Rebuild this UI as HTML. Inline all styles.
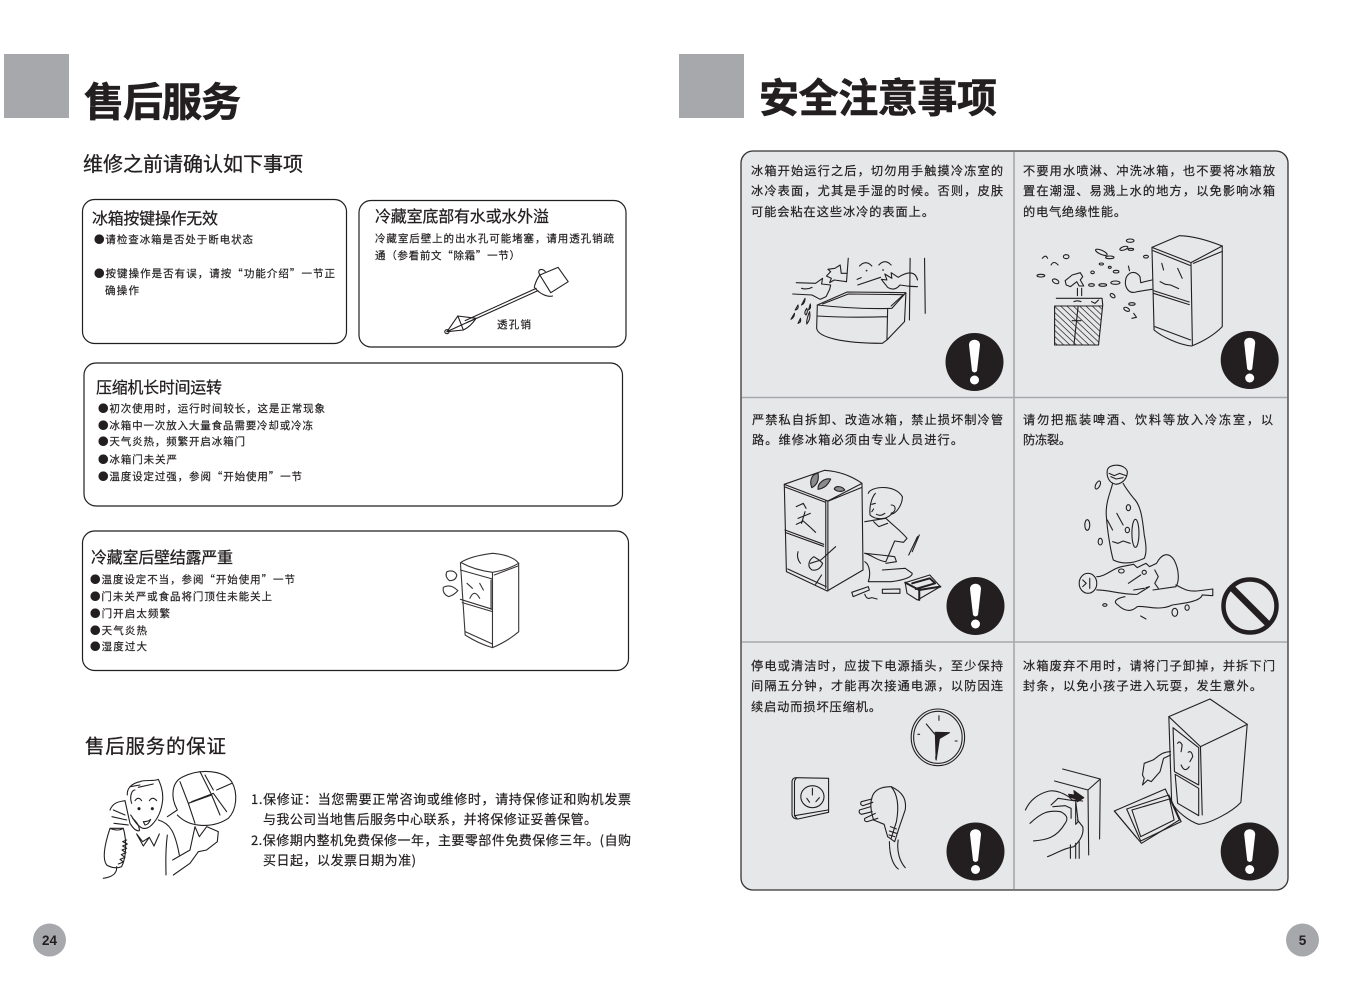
<!DOCTYPE html>
<html lang="zh-CN"><head><meta charset="utf-8"><title>售后服务 安全注意事项</title>
<style>
html,body{margin:0;padding:0;background:#fff;width:1352px;height:992px;overflow:hidden}
svg{display:block}
text{font-family:"Noto Sans CJK SC","Liberation Sans",sans-serif;fill:#231f20;stroke:#231f20;stroke-width:.18px}
.h1{font-size:40px;font-weight:700;stroke-width:.6px}
.h2{font-size:20px;stroke-width:.3px}
.t{font-size:16px;stroke-width:.25px}
.s{font-size:10.5px}
.b{font-size:12.2px;stroke-width:.2px}
.g{font-size:13px;stroke-width:.2px}
.d,.d *{fill:none;stroke:#231f20;stroke-width:1.1;vector-effect:non-scaling-stroke;stroke-linejoin:round;stroke-linecap:round}
.box{fill:#fff;stroke:#231f20;stroke-width:1.2}
</style></head><body>
<svg xmlns="http://www.w3.org/2000/svg" width="1352" height="992" viewBox="0 0 1352 992">
<defs><pattern id="hatch" patternUnits="userSpaceOnUse" width="18" height="18"><path d="M-2 -2L20 20M-20 -2L2 20M16 -2L38 20" stroke="#231f20" stroke-width="2" fill="none"/></pattern></defs>
<rect width="1352" height="992" fill="#fff"/>
<rect x="4" y="54" width="65" height="64" fill="#a7a8ab"/>
<rect x="679" y="54" width="65" height="64" fill="#a7a8ab"/>
<text class="h1" x="84" y="116" textLength="157">售后服务</text>
<text class="h1" x="759" y="112" textLength="238">安全注意事项</text>
<text class="h2" x="83" y="171" textLength="220">维修之前请确认如下事项</text>

<rect class="box" x="82.5" y="199.5" width="264" height="144" rx="12"/>
<text class="t" x="92" y="224" textLength="126">冰箱按键操作无效</text>
<text class="s" x="94" y="243" textLength="159">●请检查冰箱是否处于断电状态</text>
<text class="s" x="94" y="277" textLength="241">●按键操作是否有误，请按“功能介绍”一节正</text>
<text class="s" x="105" y="294" textLength="34">确操作</text>

<rect class="box" x="359" y="200.5" width="267" height="146.500" rx="12"/>
<text class="t" x="375" y="222" textLength="174">冷藏室底部有水或水外溢</text>
<text class="s" x="375" y="242" textLength="239">冷藏室后壁上的出水孔可能堵塞，请用透孔销疏</text>
<text class="s" x="375" y="259" textLength="145">通（参看前文“除霜”一节）</text>
<text class="s" x="497" y="328" textLength="34">透孔销</text>
<g class="d" transform="translate(70 190) scale(.3642 .3333)">
<path d="M1035 425L1065 378L1115 385Q1100 410 1080 420Z"/><path d="M1035 425L1115 385M1065 378L1080 420"/><circle cx="1035" cy="425" r="6"/>
<path d="M1085 392L1280 295M1090 398L1285 302"/>
<path d="M1290 255L1340 232L1368 275L1320 308Z"/><path d="M1290 255C1280 235 1300 235 1305 245M1275 290C1280 270 1285 262 1290 255M1275 292C1290 312 1310 322 1325 318"/>
</g>

<rect class="box" x="84" y="363" width="538.500" height="143" rx="12"/>
<text class="t" x="96" y="393" textLength="126">压缩机长时间运转</text>
<text class="s" x="98" y="412" textLength="227">●初次使用时，运行时间较长，这是正常现象</text>
<text class="s" x="98" y="429" textLength="215">●冰箱中一次放入大量食品需要冷却或冷冻</text>
<text class="s" x="98" y="445" textLength="147">●天气炎热，频繁开启冰箱门</text>
<text class="s" x="98" y="463" textLength="79">●冰箱门未关严</text>
<text class="s" x="98" y="480" textLength="204">●温度设定过强，参阅“开始使用”一节</text>

<rect class="box" x="82.500" y="531" width="546" height="139.500" rx="12"/>
<text class="t" x="91" y="563" textLength="142">冷藏室后壁结露严重</text>
<text class="s" x="90" y="583" textLength="205">●温度设定不当，参阅“开始使用”一节</text>
<text class="s" x="90" y="600" textLength="182">●门未关严或食品将门顶住未能关上</text>
<text class="s" x="90" y="617" textLength="80">●门开启太频繁</text>
<text class="s" x="90" y="634" textLength="57">●天气炎热</text>
<text class="s" x="90" y="650" textLength="57">●湿度过大</text>
<g class="d" transform="translate(70 520) scale(.3642 .3333)" style="opacity:.9">
<path d="M1072 128Q1100 108 1160 100Q1215 105 1232 130L1232 335Q1200 365 1160 383Q1120 370 1085 345Z"/>
<path d="M1074 128Q1110 150 1160 157Q1200 150 1232 130M1160 157V383"/>
<path d="M1072 150L1160 177V270M1072 238L1160 268M1077 248L1160 275M1085 335L1160 372M1165 165L1230 138M1156 180V268"/>
<path d="M1090 190L1105 205M1125 190L1135 210M1098 235Q1110 205 1125 235"/>
<path d="M1035 155Q1055 148 1062 165Q1060 182 1042 182Q1028 170 1035 155ZM1025 202Q1045 190 1065 212Q1055 225 1040 230Q1022 222 1025 202Z"/>
</g>

<text class="h2" style="font-size:19.500px" x="85" y="753" textLength="141">售后服务的保证</text>
<g class="d" transform="translate(90 760) scale(.3333)">
<path d="M232 170L262 150C240 110 245 65 280 50C330 25 400 30 425 65C445 100 440 150 415 175C370 205 300 205 262 165"/>
<path d="M270 65L295 130L365 105L330 35M295 130L315 190M305 125L370 100L410 155M365 105L390 165M345 45L370 90M380 90L425 70"/>
<path d="M112 105C110 85 125 70 150 65C165 58 190 65 205 58C210 70 220 90 218 120C215 150 205 175 185 195C175 205 160 210 150 200C135 190 130 175 122 165"/>
<path d="M125 130C118 110 125 90 135 90M145 82L190 72M120 80L150 75"/>
<path d="M135 122Q145 108 155 122M178 122Q188 108 200 122"/><circle cx="147" cy="146" r="3" style="fill:#231f20"/><circle cx="187" cy="146" r="3" style="fill:#231f20"/>
<path d="M160 185Q175 185 182 178Q175 195 165 195Z"/>
<path d="M60 150C70 125 90 125 105 122L120 190Q135 215 148 212Q150 195 128 175M70 150L105 165M66 170L110 180M72 190L115 195"/>
<path d="M60 205C45 250 35 295 50 315C65 325 85 325 95 320C110 290 110 240 100 205ZM60 205Q85 215 100 205"/>
<path d="M110 240L98 245L112 252L98 258L110 265L96 270L108 278L94 284L105 292L90 298L100 306L85 312M80 320C82 345 60 352 40 355"/>
<path d="M140 222L158 245L178 232L192 258L208 222M178 232L160 258L140 222M205 180C240 190 255 215 268 285"/>
<path d="M232 225C225 280 228 320 228 345M248 300L300 270L315 200L328 230L350 200L385 215L382 245L350 270L325 275L300 310L250 345"/>
</g>
<text class="g" x="251" y="804" textLength="380">1.保修证：当您需要正常咨询或维修时，请持保修证和购机发票</text>
<text class="g" x="263" y="824" textLength="334">与我公司当地售后服务中心联系，并将保修证妥善保管。</text>
<text class="g" x="251" y="845" textLength="380">2.保修期内整机免费保修一年，主要零部件免费保修三年。(自购</text>
<text class="g" x="263" y="865" textLength="153">买日起，以发票日期为准)</text>

<rect x="741" y="151" width="547" height="739" rx="12" fill="#e6e7e8" stroke="#333" stroke-width="1.300"/>
<path d="M1014 152V889M742 397.500H1287M742 642H1287" stroke="#a7a8ab" stroke-width="1.600" fill="none"/>

<text class="b" x="751" y="175" textLength="252">冰箱开始运行之后，切勿用手触摸冷冻室的</text>
<text class="b" x="751" y="195" textLength="252">冰冷表面，尤其是手湿的时候。否则，皮肤</text>
<text class="b" x="751" y="216" textLength="183">可能会粘在这些冰冷的表面上。</text>
<text class="b" x="1023" y="175" textLength="252">不要用水喷淋、冲洗冰箱，也不要将冰箱放</text>
<text class="b" x="1023" y="195" textLength="252">置在潮湿、易溅上水的地方，以免影响冰箱</text>
<text class="b" x="1023" y="216" textLength="103">的电气绝缘性能。</text>
<text class="b" x="752" y="424" textLength="251">严禁私自拆卸、改造冰箱，禁止损坏制冷管</text>
<text class="b" x="752" y="444" textLength="211">路。维修冰箱必须由专业人员进行。</text>
<text class="b" x="1023" y="424" textLength="250">请勿把瓶装啤酒、饮料等放入冷冻室，以</text>
<text class="b" x="1023" y="444" textLength="48">防冻裂。</text>
<text class="b" x="751" y="670" textLength="252">停电或清洁时，应拔下电源插头，至少保持</text>
<text class="b" x="751" y="690" textLength="252">间隔五分钟，才能再次接通电源，以防因连</text>
<text class="b" x="751" y="711" textLength="130">续启动而损坏压缩机。</text>
<text class="b" x="1023" y="670" textLength="252">冰箱废弃不用时，请将门子卸掉，并拆下门</text>
<text class="b" x="1023" y="690" textLength="239">封条，以免小孩子进入玩耍，发生意外。</text>

<!-- row 1 illustrations -->
<g class="d" transform="translate(740 230) scale(.3515 .3333)">
<path d="M220 225L305 186L472 188L432 235C360 238 280 232 220 225Z"/>
<path d="M235 222L308 192L465 194L430 228"/>
<path d="M220 225L218 295C222 322 290 340 405 340L418 330L420 238M418 330L468 275L472 190M220 258C280 262 360 262 420 260"/>
<path d="M484 85L482 270M525 85L527 250M308 85L303 155"/>
<path d="M340 108Q358 88 375 108M395 105Q412 85 430 105M335 165L400 142M333 148L345 143"/><circle cx="360" cy="122" r="1"/><circle cx="407" cy="120" r="1"/>
<path d="M505 150C500 125 480 122 450 142L430 128L432 145L412 132L418 150L402 148L420 172Q440 185 455 165C470 168 490 170 505 170"/>
<path d="M303 155L268 150L255 158L260 145L246 138L258 125L250 118L270 115L285 105L288 130L305 130"/>
<path d="M160 158L215 160L235 145L232 162L258 165L255 178L245 200L228 208L205 195L150 192M175 175Q190 180 205 172"/>
<path d="M185 205L175 225Q185 220 185 205ZM165 225L157 240Q168 238 165 225ZM190 235Q180 250 188 255Q194 245 190 235ZM200 222L195 240Q203 235 200 222ZM155 250L145 268Q155 262 155 250ZM172 265L165 280Q175 278 172 265ZM198 245Q188 270 190 282Q202 268 198 245Z"/>
<path d="M1172 52L1250 17Q1300 18 1372 48L1372 290Q1340 325 1285 348C1250 345 1200 320 1178 300Z"/>
<path d="M1172 52L1283 98L1372 48M1283 98L1287 345M1175 62L1280 106M1176 182L1278 216M1176 190L1278 224M1180 290L1282 330M1290 100L1372 64"/>
<path d="M1195 155L1210 163L1225 165L1248 176M1200 100L1205 120M1245 115L1258 145"/>
<path d="M1172 150L1140 158M1172 178L1130 185C1105 195 1092 170 1098 145C1105 125 1125 120 1138 140L1140 158M1105 108L1108 122"/>
<path d="M900 205H1030L1032 225L1020 345M895 228H1030M895 228V345H1020M962 228L950 345"/>
<path d="M895 228H1030L1020 345H895Z" style="fill:url(#hatch);stroke:none"/>
<path d="M945 272H970"/>
<path d="M925 152L945 135L968 128L975 140L968 150L978 168H965L958 155L940 170L928 165ZM960 175V197M972 175V197M950 215Q960 210 970 215M1000 215L1010 220L1020 210"/>
<ellipse cx="1028" cy="67" rx="18" ry="6" transform="rotate(25 1028 67)"/><ellipse cx="1052" cy="82" rx="12" ry="4"/><ellipse cx="1092" cy="55" rx="12" ry="5" transform="rotate(-20 1092 55)"/><ellipse cx="1110" cy="32" rx="11" ry="5"/><ellipse cx="1112" cy="58" rx="8" ry="3"/><ellipse cx="1155" cy="80" rx="7" ry="4"/>
<ellipse cx="1028" cy="102" rx="6" ry="3"/><ellipse cx="1070" cy="125" rx="8" ry="4"/><ellipse cx="1052" cy="112" rx="4" ry="3"/><ellipse cx="1003" cy="127" rx="5" ry="4"/><ellipse cx="1000" cy="165" rx="8" ry="4"/><ellipse cx="1032" cy="165" rx="11" ry="4"/><ellipse cx="1068" cy="158" rx="13" ry="5"/><ellipse cx="1060" cy="197" rx="8" ry="5" transform="rotate(40 1060 197)"/><ellipse cx="1115" cy="222" rx="9" ry="4"/><ellipse cx="1100" cy="238" rx="9" ry="5" transform="rotate(30 1100 238)"/><path d="M1120 250L1128 262L1115 265"/>
<ellipse cx="928" cy="80" rx="8" ry="6"/><path d="M860 85Q870 72 875 85M885 105Q892 90 905 105"/><ellipse cx="856" cy="137" rx="11" ry="4"/><ellipse cx="898" cy="154" rx="10" ry="6" transform="rotate(30 898 154)"/>
</g>
<g><circle cx="974.500" cy="362" r="29" fill="#231f20"/><path d="M969 345C969 338 980 338 980 345L977 371Q974.500 374 972 371Z" fill="#fff"/><circle cx="974.500" cy="380" r="4.500" fill="#fff"/></g>
<g><circle cx="1249.700" cy="360" r="29" fill="#231f20"/><path d="M1244.200 343C1244.200 336 1255.200 336 1255.200 343L1252.200 369Q1249.700 372 1247.200 369Z" fill="#fff"/><circle cx="1249.700" cy="378" r="4.500" fill="#fff"/></g>

<!-- row 2 illustrations -->
<g class="d" transform="translate(740 455) scale(.3515 .3333)">
<path d="M126 88L240 46Q300 50 347 85L350 345L248 408L132 350Z"/>
<path d="M126 88L250 138L347 85M250 138V408M244 138V400M128 96L244 142M128 225L238 268M130 233L238 274M136 342L245 395M252 138L345 98"/>
<path d="M204 98C195 70 210 55 222 55C225 75 220 90 204 98ZM222 103C220 85 240 68 258 72C250 90 240 100 222 103ZM268 102C272 92 290 92 298 105C290 112 275 110 268 102Z" style="fill:#8a8b8d"/>
<path d="M160 155L180 145L188 160M160 208L180 198L198 215L215 232M165 190L200 175M185 170L175 205"/>
<path d="M165 290Q160 310 172 325M200 325L230 315L272 275M205 345C190 335 195 315 210 305L225 315L235 325C230 340 218 348 205 345Z"/>
<path d="M215 388L232 360"/>
<path d="M365 115C370 95 440 85 462 125C462 150 445 175 430 178C415 195 385 195 370 180C368 160 372 130 385 115M430 150C445 150 445 170 430 175M375 148L385 145M380 162L375 170M388 178Q400 185 412 175"/>
<path d="M355 200Q385 195 415 190C440 215 460 230 475 250L465 262L440 258L415 320C395 320 375 300 355 295M380 200L395 215L420 205"/>
<path d="M355 320C370 330 372 360 365 380L430 380C470 375 490 365 490 355L470 340L405 345"/>
<path d="M355 295L400 300L440 305L445 320L415 325M480 300L505 245M490 290L510 240"/>
<path d="M470 383L540 360L570 395L505 435L475 415Z"/><path d="M470 383L510 405V435M510 405L570 395M490 385L540 370L555 385L500 402" style="stroke-width:2"/>
<path d="M318 412L365 395L368 405L322 425ZM405 403L455 402V415L405 415ZM355 418Q360 432 368 430L375 428L390 432"/>
<path d="M1045 45C1050 25 1095 25 1102 50C1102 70 1090 85 1070 88C1050 85 1042 65 1045 45Z"/><path d="M1050 55L1065 62L1080 55L1098 62M1055 65L1070 72L1090 68"/>
<path d="M1060 85C1055 110 1040 140 1042 180C1045 230 1055 290 1062 315Q1100 335 1150 310Q1160 290 1150 240C1145 190 1140 150 1120 130C1105 110 1095 95 1090 85"/>
<ellipse cx="1125" cy="235" rx="10" ry="42"/><path d="M1060 260L1075 265L1090 258L1110 265M1072 175L1090 210M1045 195L1060 225"/>
<ellipse cx="1105" cy="158" rx="6" ry="9"/><ellipse cx="1102" cy="225" rx="6" ry="8"/><ellipse cx="1018" cy="90" rx="6" ry="13" transform="rotate(25 1018 90)"/><ellipse cx="988" cy="210" rx="7" ry="16"/><ellipse cx="1025" cy="260" rx="6" ry="10"/>
<ellipse cx="990" cy="385" rx="25" ry="30"/><path d="M975 375L985 385L975 395M995 370V400"/>
<path d="M1015 365C1040 365 1060 340 1085 335L1120 328L1130 338L1155 325L1165 335L1185 325C1200 295 1220 290 1235 315C1250 345 1250 380 1240 395L1175 405M1015 405C1050 405 1090 420 1130 418L1165 395L1155 398M1180 345L1190 365L1180 385L1190 400M1105 385L1140 360M1120 405L1150 400"/>
<ellipse cx="1085" cy="348" rx="8" ry="6"/><ellipse cx="1150" cy="352" rx="6" ry="6"/>
<path d="M1240 390C1260 400 1270 410 1300 408L1345 402V422L1315 420C1310 440 1260 445 1230 450C1190 470 1150 450 1130 455C1110 475 1090 465 1075 450C1060 440 1070 430 1095 425"/>
<ellipse cx="1038" cy="450" rx="6" ry="4"/><ellipse cx="1237" cy="472" rx="8" ry="12"/><ellipse cx="1272" cy="458" rx="6" ry="8"/><path d="M1140 483L1155 492"/>
</g>
<g><circle cx="975.500" cy="606" r="29" fill="#231f20"/><path d="M970 589C970 582 981 582 981 589L978 615Q975.500 618 973 615Z" fill="#fff"/><circle cx="975.500" cy="624" r="4.500" fill="#fff"/></g>
<g fill="none" stroke="#231f20"><circle cx="1250" cy="606" r="26.500" stroke-width="4.500"/><path d="M1232 588L1268 624" stroke-width="6.500"/></g>

<!-- row 3 illustrations -->
<g class="d" transform="translate(740 695) scale(.3515 .3333)">
<ellipse cx="563" cy="127" rx="76" ry="85"/><ellipse cx="563" cy="127" rx="69" ry="78"/>
<path d="M566 62V76M506 118H511M612 138H618M557 185V192M560 125L530 87"/><path d="M555 112L596 113L565 132ZM556 120L568 125L558 195Z" style="fill:#231f20"/>
<path d="M148 258Q150 248 160 248L252 250V352L165 372Q150 372 148 360Z"/><path d="M160 250Q155 255 155 262V362L163 372M155 362L250 345"/>
<ellipse cx="206" cy="305" rx="33" ry="33"/><path d="M206 280V300M190 310L198 322M226 308L216 320"/>
<path d="M378 300C385 285 400 275 430 275C460 290 475 310 470 345L452 400L440 440L420 425L410 388L380 375C370 340 370 320 378 300Z"/>
<path d="M430 275C450 300 452 340 445 380L430 430"/>
<path d="M375 312L345 320Q340 330 350 332L378 322M372 335L340 345Q336 355 346 358L376 350M385 355L355 370Q352 380 362 380L392 370"/>
<path d="M428 395L445 402M425 408L445 415M424 420L440 425"/>
<path d="M425 440C425 480 435 510 450 522M450 435C445 470 455 500 470 518"/>
<path d="M918 222L1025 252L1023 432M895 258L990 285L992 480M990 285L1025 252"/>
<path d="M812 345C825 315 850 295 880 288C900 285 920 295 935 305L945 315L975 318M885 330L905 310L955 318L962 380L955 388V322M890 335L925 332L942 340V370M825 385C860 350 880 345 912 350C930 360 935 370 925 385M835 438C870 435 900 430 925 385M875 485C900 475 920 460 950 455C965 440 980 420 975 395L960 375M940 490V450M955 490V445M965 490V440"/>
<path d="M935 298L952 300L950 287L978 308L960 320L955 312L938 306Z" style="fill:#231f20"/>
<path d="M1220 65L1337 12L1443 88L1425 322C1400 350 1340 385 1305 388C1280 380 1240 350 1228 320Z"/>
<path d="M1220 65L1310 155L1443 88M1310 155L1315 360"/>
<path d="M1232 98L1305 158V270L1236 230ZM1238 238L1305 280V362L1245 325Z"/>
<path d="M1245 145Q1250 135 1258 150L1255 170M1275 172Q1285 165 1288 185L1280 200M1255 210Q1265 235 1278 215"/>
<path d="M1225 170C1200 170 1190 185 1175 195L1150 205L1145 240L1150 250L1145 270L1160 255L1170 260L1195 230L1205 190L1225 180"/>
<path d="M1065 348L1210 282L1250 375L1142 445Z"/><path d="M1100 342L1220 300L1255 380L1140 438ZM1115 345L1222 312L1235 375L1140 425ZM1065 348L1130 430"/>
</g>
<g><circle cx="975.500" cy="851.500" r="29" fill="#231f20"/><path d="M970 834.500C970 827.500 981 827.500 981 834.500L978 860.500Q975.500 863.500 973 860.500Z" fill="#fff"/><circle cx="975.500" cy="869.500" r="4.500" fill="#fff"/></g>
<g><circle cx="1249.700" cy="851.500" r="29" fill="#231f20"/><path d="M1244.200 834.500C1244.200 827.500 1255.200 827.500 1255.200 834.500L1252.200 860.500Q1249.700 863.500 1247.200 860.500Z" fill="#fff"/><circle cx="1249.700" cy="869.500" r="4.500" fill="#fff"/></g>

<circle cx="49.500" cy="940" r="16.500" fill="#a7a8ab"/>
<circle cx="1302.500" cy="940" r="16.500" fill="#a7a8ab"/>
<text x="49.500" y="945" text-anchor="middle" style="font:700 13.500px 'Liberation Sans',sans-serif;stroke:none">24</text>
<text x="1302.500" y="945" text-anchor="middle" style="font:700 13.500px 'Liberation Sans',sans-serif;stroke:none">5</text>
</svg>
</body></html>
